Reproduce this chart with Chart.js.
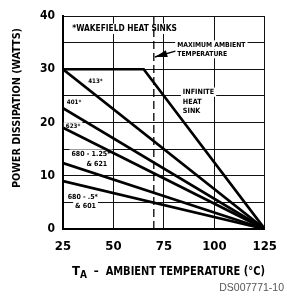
<!DOCTYPE html>
<html>
<head>
<meta charset="utf-8">
<script src="https://cdn.jsdelivr.net/npm/chart.js@4.4.1/dist/chart.umd.min.js"></script>
<style>
  html, body { margin: 0; padding: 0; background: #fff; }
  #wrap { width: 287px; height: 299px; position: relative; }
</style>
</head>
<body>
<div id="wrap"><canvas id="grafico"></canvas></div>
<script>
// Eixos (temperatura em °C, potência em W)
const tempMin = 25, tempMax = 125, tempStep = 25;
const wattMin = 0, wattMax = 40, wattStep = 5;
const maxAmbient = 70;

// Curvas de derating: pontos (T, P)
const infiniteT = [25, 65, 125];
const infiniteW = [30, 30, 0];
const sinkT = [25, 125];
const sink413 = [30, 0];
const sink401 = [22.7, 0];
const sink623 = [19, 0];
const sink680_125 = [12.4, 0];
const sink680_05 = [9, 0];

// Textos dentro do gráfico (posição em unidades de dados)
const labelTexts = ['*WAKEFIELD HEAT SINKS', 'MAXIMUM AMBIENT', 'TEMPERATURE', 'INFINITE', 'HEAT', 'SINK',
  '413*', '401*', '623*', '680 - 1.25*', '& 621', '680 - .5*', '& 601'];
const labelT = [29.6, 81.6, 81.6, 84.4, 84.4, 84.4, 37.5, 26.9, 26.4, 29.2, 36.6, 27.3, 31.0];
const labelW = [37.6, 34.6, 32.9, 25.7, 23.9, 22.2, 27.8, 23.7, 19.3, 14.1, 12.2, 6.0, 4.3];
const arrowT = [80.7, 70.5];
const arrowW = [33.4, 32.3];

const FONT = '"Liberation Sans Narrow", "DejaVu Sans Condensed", sans-serif';
const labelSize = [8.3, 6.8, 6.8, 7.2, 7.2, 7.2, 6.2, 6.2, 6.2, 7, 7, 7, 7];

function pontos(ts, ws) {
  return ts.map((t, i) => ({ x: t, y: ws[i] }));
}

function linha(ts, ws) {
  return {
    data: pontos(ts, ws),
    borderColor: '#000',
    borderWidth: 2.7,
    pointRadius: 0,
    fill: false,
    tension: 0
  };
}

const datasets = [
  linha(infiniteT, infiniteW),
  linha(sinkT, sink413),
  linha(sinkT, sink401),
  linha(sinkT, sink623),
  linha(sinkT, sink680_125),
  linha(sinkT, sink680_05),
  {
    data: pontos([maxAmbient, maxAmbient], [wattMin, wattMax]),
    borderColor: '#000',
    borderWidth: 1.3,
    borderDash: [8, 4],
    pointRadius: 0,
    fill: false
  }
];

// Rótulos com fundo branco (cortam a grade)
const rotulosPlugin = {
  id: 'rotulos',
  beforeDatasetsDraw(chart) {
    const { ctx, scales: { x, y } } = chart;
    ctx.save();
    ctx.textBaseline = 'middle';
    ctx.textAlign = 'left';
    labelTexts.forEach((txt, i) => {
      ctx.font = 'bold ' + labelSize[i] + 'px ' + FONT;
      const px = x.getPixelForValue(labelT[i]);
      const py = y.getPixelForValue(labelW[i]);
      const w = ctx.measureText(txt).width;
      ctx.fillStyle = '#fff';
      ctx.fillRect(px - 2, py - labelSize[i] / 2 - 1, w + 4, labelSize[i] + 2);
      ctx.fillStyle = '#000';
      ctx.fillText(txt, px, py);
    });
    ctx.restore();
  },
  afterDraw(chart) {
    const { ctx, scales: { x, y } } = chart;
    ctx.save();
    // seta para a temperatura máxima
    const x0 = x.getPixelForValue(arrowT[0]), y0 = y.getPixelForValue(arrowW[0]);
    const x1 = x.getPixelForValue(arrowT[1]), y1 = y.getPixelForValue(arrowW[1]);
    const ang = Math.atan2(y1 - y0, x1 - x0);
    ctx.strokeStyle = '#000';
    ctx.fillStyle = '#000';
    ctx.lineWidth = 1.4;
    ctx.beginPath();
    ctx.moveTo(x0, y0);
    ctx.lineTo(x1, y1);
    ctx.stroke();
    ctx.beginPath();
    ctx.moveTo(x1, y1);
    ctx.lineTo(x1 - 13 * Math.cos(ang - 0.28), y1 - 13 * Math.sin(ang - 0.28));
    ctx.lineTo(x1 - 13 * Math.cos(ang + 0.28), y1 - 13 * Math.sin(ang + 0.28));
    ctx.closePath();
    ctx.fill();

    // título do eixo Y
    ctx.save();
    ctx.translate(17.5, 108);
    ctx.rotate(-Math.PI / 2);
    ctx.font = 'bold 11px ' + FONT;
    ctx.textAlign = 'center';
    ctx.textBaseline = 'middle';
    ctx.fillText('POWER DISSIPATION (WATTS)', 0, 0, 160);
    ctx.restore();

    // título do eixo X com subscrito
    ctx.textBaseline = 'alphabetic';
    ctx.textAlign = 'left';
    let cx = 72;
    const base = 275;
    ctx.font = 'bold 13px ' + FONT;
    ctx.fillText('T', cx, base);
    cx += ctx.measureText('T').width;
    ctx.font = 'bold 10px ' + FONT;
    ctx.fillText('A', cx, base + 3);
    cx += ctx.measureText('A').width;
    ctx.font = 'bold 13px ' + FONT;
    ctx.fillText('  \u2013  AMBIENT TEMPERATURE (\u00B0C)', cx, base, 265 - cx);

    // código do documento
    ctx.font = '10.5px "Liberation Sans", Arial, sans-serif';
    ctx.fillStyle = '#555';
    ctx.textAlign = 'right';
    ctx.textBaseline = 'middle';
    ctx.fillText('DS007771-10', 284, 288);
    ctx.restore();
  }
};

new Chart(document.getElementById('grafico'), {
  type: 'line',
  data: { datasets },
  options: {
    responsive: true,
    maintainAspectRatio: false,
    animation: false,
    layout: { padding: { left: 0, top: 16, right: 10, bottom: 0 } },
    plugins: { legend: { display: false }, tooltip: { enabled: false } },
    scales: {
      x: {
        type: 'linear',
        min: tempMin,
        max: tempMax,
        ticks: {
          stepSize: tempStep,
          padding: 10,
          color: '#000',
          font: { family: FONT, size: 13, weight: 'bold' }
        },
        grid: { color: '#111', lineWidth: 1, drawTicks: false },
        border: { color: '#000', width: 2 },
        afterFit: s => { s.height = 70; }
      },
      y: {
        type: 'linear',
        min: wattMin,
        max: wattMax,
        ticks: {
          stepSize: wattStep,
          padding: 8,
          color: '#000',
          font: { family: FONT, size: 12, weight: 'bold' },
          callback: v => (v % 10 === 0 ? v : '')
        },
        grid: { color: '#111', lineWidth: 1, drawTicks: false },
        border: { color: '#000', width: 2 },
        afterFit: s => { s.width = 63; }
      }
    }
  },
  plugins: [rotulosPlugin]
});
</script>
</body>
</html>
